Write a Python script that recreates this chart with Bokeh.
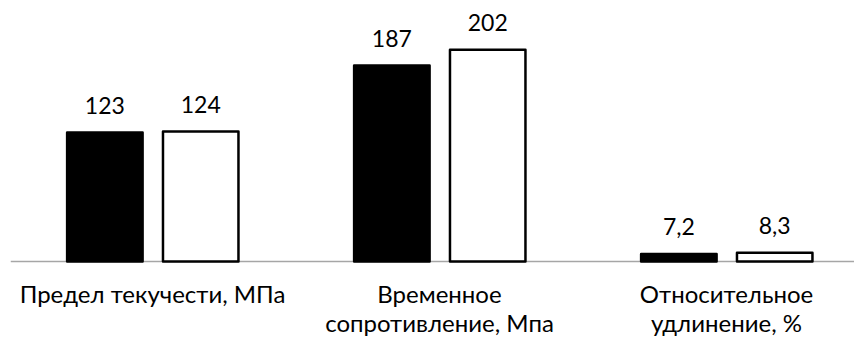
from bokeh.plotting import figure
from bokeh.models import ColumnDataSource, Range1d, Span
from bokeh.core.properties import value
from bokeh.transform import dodge
from bokeh.embed import file_html
from bokeh.resources import INLINE

categories = ["Предел текучести, МПа", "Временное\nсопротивление, Мпа", "Относительное\nудлинение, %"]
series_a = [123, 187, 7.2]
series_b = [124, 202, 8.3]
labels_a = ["123", "187", "7,2"]
labels_b = ["124", "202", "8,3"]

xpos = list(range(len(categories)))
src = ColumnDataSource(dict(x=xpos, a=series_a, b=series_b, la=labels_a, lb=labels_b,
                            cat=categories, zero=[0] * len(categories)))

FONT = "Lato"

p = figure(width=854, height=340, output_backend="svg", toolbar_location=None,
           x_range=Range1d(-0.4948, 2.446), y_range=Range1d(-75.4, 249.0),
           min_border_left=10, min_border_right=0, min_border_top=0, min_border_bottom=0)
p.outline_line_color = None
p.background_fill_color = "white"
p.border_fill_color = "white"
p.xgrid.visible = False
p.ygrid.visible = False
p.xaxis.visible = False
p.yaxis.visible = False

p.add_layout(Span(location=0, dimension="width", line_color="#a6a6a6", line_width=1.5, level="underlay"))

p.vbar(x=dodge("x", -0.166, range=p.x_range), top="a", width=0.263, bottom=0, source=src,
       fill_color="black", line_color="black", line_width=2.5, line_join="round")
p.vbar(x=dodge("x", 0.168, range=p.x_range), top="b", width=0.263, bottom=0, source=src,
       fill_color="white", line_color="black", line_width=2.5, line_join="round")

p.text(x=dodge("x", -0.166, range=p.x_range), y="a", text="la", source=src,
       text_font=value(FONT), text_font_size="23px", text_color="black",
       text_align="center", text_baseline="alphabetic", y_offset=-27)
p.text(x=dodge("x", 0.168, range=p.x_range), y="b", text="lb", source=src,
       text_font=value(FONT), text_font_size="23px", text_color="black",
       text_align="center", text_baseline="alphabetic", y_offset=-27)

p.text(x="x", y="zero", text="cat", source=src,
       text_font=value(FONT), text_font_size="24px", text_color="black",
       text_align="center", text_baseline="top", y_offset=18, text_line_height=1.0)

open("out.html", "w").write(file_html(p, INLINE))
